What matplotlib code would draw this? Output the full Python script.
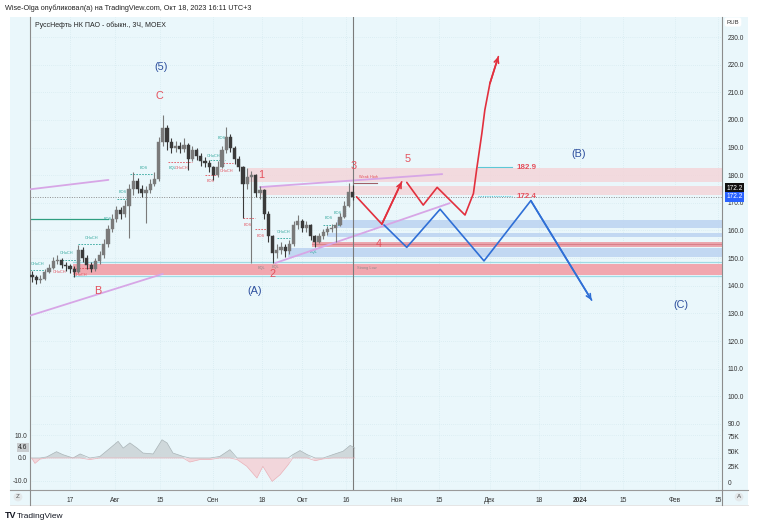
import matplotlib
matplotlib.use('Agg')
import matplotlib.pyplot as plt
from matplotlib.patches import Rectangle
import numpy as np

plt.rcParams['font.family'] = ['Liberation Sans', 'DejaVu Sans']

# ---------------- data ----------------
candle_idx = list(range(-9, 68))
first_open = 144.0
closes = [143, 142, 142.5, 145, 146.5, 149, 149.5, 147.5, 147, 146,
          145, 153, 150, 147.5, 146, 149, 151, 155, 160.5, 164,
          167.5, 166, 169, 175, 178, 175, 173.5, 174.5, 177, 178.5,
          192, 197, 192, 190, 190.5, 189.5, 191, 186, 189, 187,
          185, 184.5, 183, 180, 183, 189, 194, 190, 186, 183,
          177, 179.5, 180, 173.5, 174.5, 166, 158, 152, 153, 154,
          152.5, 155, 162, 163.5, 161, 162, 158, 156, 158, 159.5,
          160.5, 161, 162, 165, 169, 174, 172.2]
highs = [145.5, 144, 144, 146, 148, 150.5, 151, 150, 148.5, 148,
         147, 154.7, 154, 151, 148.5, 150, 152.5, 157, 162, 166,
         169, 168.5, 171, 177, 181, 179, 176.5, 176, 178.5, 181,
         194, 201.8, 198, 193.5, 192.5, 192, 193.5, 191.5, 190.5, 190,
         188, 186.5, 185.5, 183.5, 185, 190.5, 197.4, 195, 190.5, 187,
         183.5, 182.6, 181.5, 180.5, 176, 175, 167, 158.5, 155, 156,
         155, 156.5, 163.5, 165.6, 164, 163.5, 162.5, 158.5, 159, 160.5,
         161.5, 162.5, 163, 166.5, 170.5, 177.2, 176.5]
lows = [141.5, 140.8, 141, 142, 144.5, 146, 148, 146.5, 145.5, 144.5,
        143.2, 144.5, 148.5, 146, 145, 145.5, 148, 150, 154, 159.5,
        163, 164, 165, 157.3, 173, 173.5, 172, 162.7, 173.5, 176,
        178, 190.5, 189, 188, 188.5, 188, 188.5, 182, 185, 185.5,
        183.5, 183, 181, 178.3, 179.5, 182.5, 188, 188.5, 184, 181.5,
        164.5, 175, 148.2, 172, 171.5, 164, 156, 148.2, 150, 151.5,
        150.5, 151.5, 154.5, 160.5, 159.5, 159.5, 156.5, 154, 155.5, 157,
        158.5, 159.5, 155.8, 161.5, 164.5, 168.5, 171]

x_tick_pos = [0, 10.7, 21.3, 33.9, 45.5, 55.0, 65.4, 77.3, 87.4, 99.5,
              111.1, 120.9, 131.0, 143.4, 153.6]
x_tick_labels = ['17', 'Авг', '15', 'Сен', '18', 'Окт', '16', 'Ноя', '15',
                 'Дек', '18', '2024', '15', 'Фев', '15']
price_ticks = [90, 100, 110, 120, 130, 140, 150, 160, 170, 180, 190, 200,
               210, 220, 230]
last_price = 172.2

# oscillator pane
ind_x = [-9.1, -8.3, -7.1, -5.5, -3.2, -1.7, 0.7, 2.4, 4.7, 7.1,
         9.5, 11.4, 12.6, 14.2, 15.9, 17.3, 19.7, 21.8, 23.0, 24.4,
         26.8, 28.4, 30.8, 33.2, 35.5, 37.9, 39.6, 41.9, 44.3, 45.7,
         47.9, 49.8, 51.7, 52.8, 54.5, 56.2, 58.1, 60.0, 62.3, 64.7,
         66.4, 67.5]
ind_v = [0, -2.4, -0.5, 0.5, 2.8, 1.5, 0, 1.8, -0.7, 0.7,
         4.4, 7.4, 4.4, 6.7, 4.4, 2.2, 1.8, 8.1, 6.7, 2.2,
         0.7, -1.8, -0.7, -0.7, 0.7, 3.7, -0.7, -3.7, -8.9, -3.7,
         -10.4, -7.4, -3, 1.5, 3.3, 1.5, -1.2, -0.4, 1.5, 3,
         5.6, 4.4]
ind_last = 4.6
ind_ticks = [10, 0, -10]
vol_ticks = [0, 25000, 50000, 75000]
vol_labels = ['0', '25K', '50K', '75K']

# zones (start index, low, high, kind)
zone_x0 = [42.2, 45.0, 63.3, 60.9, 57.3, 51.7, 0.7]
zone_lo = [177.6, 172.8, 160.8, 157.8, 154.1, 150.5, 143.9]
zone_hi = [182.7, 176.1, 163.8, 159.0, 155.9, 153.5, 147.9]
zone_kind = ['weak', 'weak', 'bull', 'bull', 'bear', 'bull', 'strong']

# trend lines (x0, p0, x1, p1)
tl_x0 = [-9.5, -9.5, 48.6, 45.0]
tl_p0 = [174.9, 129.2, 148.2, 175.7]
tl_x1 = [9.1, 22.0, 90.0, 88.2]
tl_p1 = [178.3, 144.3, 169.9, 180.4]

# scenario paths
red1_x = [67.9, 73.9, 78.6]
red1_p = [172.2, 162.3, 177.6]
red2_x = [79.8, 83.7, 87.0, 93.6, 95.6, 96.4, 97.6, 98.3, 99.5, 101.5]
red2_p = [177.4, 169.2, 175.6, 165.6, 173.4, 182.5, 195.2, 203.6, 213.2, 222.9]
blue_x = [74.4, 79.8, 87.7, 98.1, 109.2, 123.6]
blue_p = [162.0, 153.9, 167.7, 149.0, 170.8, 134.8]

# wave labels
wave_txt = ['(5)', 'C', 'B', '(A)', '1', '2', '3', '4', '5', '(B)', '(C)']
wave_x = [21.6, 21.1, 6.6, 43.8, 45.3, 47.9, 67.1, 73.2, 80.1, 120.6, 144.8]
wave_p = [219.1, 208.7, 138.1, 138.1, 180.1, 144.3, 183.3, 155.1, 185.9, 187.7, 133.0]
wave_col = ['blue', 'red', 'red', 'blue', 'red', 'red', 'red', 'red', 'red', 'blue', 'blue']

# target levels
target_vals = [182.9, 172.4]

# structure labels (text, x, price, colour)
st_txt = ['CHoCH', 'CHoCH', 'CHoCH', 'CHoCH', 'CHoCH', 'BOS', 'BOS', 'BOS', 'EQL',
          'CHoCH', 'BOS', 'CHoCH', 'BOS', 'CHoCH', 'BOS', 'BOS', 'CHoCH', 'EQL',
          'EQL', 'BOS', 'BOS', 'EQL', 'Strong Low', 'Weak High']
st_x = [-7.6, -2.4, -0.7, 2.4, 5.0, 9.0, 12.6, 17.5, 24.2, 26.5, 33.4, 33.9,
        36.0, 37.2, 42.2, 45.3, 50.5, 45.3, 48.6, 61.4, 63.5, 57.6, 70.4, 70.6]
st_p = [147.9, 145.0, 151.9, 143.9, 157.3, 164.2, 173.9, 182.6, 182.6, 182.6,
        177.9, 186.9, 193.4, 181.5, 162.0, 158.0, 159.45, 146.4, 146.8, 164.5,
        166.3, 152.2, 146.4, 179.35]
st_c = ['t', 'r', 't', 'r', 't', 't', 't', 't', 't', 'r', 'r', 't', 't', 'r',
        'r', 'r', 't', 'g', 'g', 't', 't', 't', 'g', 'r']
# dashed structure lines (x0, x1, price, colour)
sl_x0 = [-9.5, -1.9, 0.7, 1.9, 11.1, 14.2, 23.2, 32.0, 33.2, 35.5, 41.0, 43.8, 49.1, 60.0]
sl_x1 = [-5.9, 2.4, 5.2, 7.8, 14.2, 19.7, 28.9, 34.8, 36.7, 38.6, 43.8, 46.9, 52.1, 64.0]
sl_p = [145.7, 149.3, 146.4, 155.1, 171.4, 180.4, 184.8, 180.1, 185.6, 184.4,
        164.5, 160.5, 157.3, 162.0]
sl_c = ['t', 't', 'r', 't', 't', 't', 'r', 'r', 't', 'r', 'r', 'r', 't', 't']

# ---------------- styling ----------------
BG = '#eaf7fb'
RED_T = '#e4505c'
BLUE_T = '#2d4f9e'
TEAL = '#2ea59a'
cmap_c = {'t': TEAL, 'r': RED_T, 'g': '#8a8a8a'}
zone_col = {'weak': ('#f4d5d9', 0.85), 'bull': ('#bcd3f1', 0.85),
            'bear': ('#eca3aa', 0.95), 'strong': ('#f2a3ab', 0.95)}

fig = plt.figure(figsize=(7.58, 5.26), dpi=100)
fig.patch.set_facecolor('white')
W, H = 758.0, 526.0

# background panel (behind everything)
bgax = fig.add_axes([10 / W, 1 - 505 / H, 738 / W, 488 / H], zorder=-10)
bgax.set_facecolor(BG)
bgax.set_xticks([])
bgax.set_yticks([])
for s in bgax.spines.values():
    s.set_visible(False)

ax = fig.add_axes([30 / W, 1 - 430 / H, 692 / W, 413 / H])
ind = fig.add_axes([30 / W, 1 - 490 / H, 692 / W, 60 / H], sharex=ax)
for a in (ax, ind):
    a.set_facecolor(BG)
    for s in ('top', 'bottom'):
        a.spines[s].set_visible(False)
    a.spines['left'].set_color('#8c8c8c')
    a.spines['right'].set_color('#8c8c8c')
    a.spines['left'].set_linewidth(0.8)
    a.spines['right'].set_linewidth(0.8)

XMIN, XMAX = -9.48, 154.5
ax.set_xlim(XMIN, XMAX)
ax.set_ylim(87.82, 237.24)

# grid
ax.set_xticks(x_tick_pos)
ax.set_yticks(price_ticks)
ax.grid(True, color='#cfe6ec', lw=0.5, ls=(0, (1, 2)))
ax.set_axisbelow(True)
ax.yaxis.tick_right()
ax.set_yticklabels([f'{v:.1f}' for v in price_ticks])
ax.tick_params(axis='y', length=0, pad=4, labelsize=4.8, labelcolor='#333333')
ax.tick_params(axis='x', length=0, labelbottom=False)

# zones
for x0, lo, hi, k in zip(zone_x0, zone_lo, zone_hi, zone_kind):
    c, al = zone_col[k]
    ax.add_patch(Rectangle((x0, lo), XMAX - x0, hi - lo, facecolor=c,
                           alpha=al, edgecolor='none', zorder=1))
    if k == 'bear':
        ax.plot([x0, XMAX], [(lo + hi) / 2] * 2, color='#d9808a', lw=0.8, zorder=1)
    if k == 'strong':
        ax.plot([x0, XMAX], [hi + 0.7] * 2, color='#9fdbe4', lw=0.9, zorder=1)
        ax.plot([x0, XMAX], [lo - 0.5] * 2, color='#9fdbe4', lw=0.9, zorder=1)

# green BOS line
ax.plot([XMIN, 9.0], [164.2, 164.2], color='#2e9e80', lw=0.9, zorder=2)

# dashed structure lines
for x0, x1, p, c in zip(sl_x0, sl_x1, sl_p, sl_c):
    ax.plot([x0, x1], [p, p], color=cmap_c[c], lw=0.6, ls=(0, (2, 1.5)), zorder=2)
for t, x, p, c in zip(st_txt, st_x, st_p, st_c):
    ax.text(x, p, t, color=cmap_c[c], fontsize=2.8, ha='center', va='center', zorder=3)

# last price dotted line
ax.axhline(last_price, color='#8c8c8c', lw=0.7, ls=(0, (1, 1.5)), zorder=2)

# trend lines
for x0, p0, x1, p1 in zip(tl_x0, tl_p0, tl_x1, tl_p1):
    ax.plot([x0, x1], [p0, p1], color='#d7a6e6', lw=1.3, zorder=3,
            solid_capstyle='round')

# candles
opens = [first_open] + closes[:-1]
for i, o, h, l, c in zip(candle_idx, opens, highs, lows, closes):
    col = '#7a7a7a' if c >= o else '#3a3a3a'
    ax.vlines(i, l, h, color=col, lw=0.8, zorder=4)
    ax.add_patch(Rectangle((i - 0.38, min(o, c)), 0.76, max(abs(c - o), 0.3),
                           facecolor=col, edgecolor=col, lw=0.3, zorder=4))

# weak-high short line
ax.plot([67.1, 72.7], [177.2, 177.2], color='#a06068', lw=0.8, zorder=3)

# vertical marker line
ax.axvline(67.1, color='#7a7a7a', lw=0.8, zorder=3)
ind.axvline(67.1, color='#7a7a7a', lw=0.8, zorder=3)

# scenario paths
def path_with_arrow(xs, ps, col):
    ax.plot(xs, ps, color=col, lw=1.2, zorder=5, solid_joinstyle='round',
            solid_capstyle='round')
    ax.annotate('', xy=(xs[-1], ps[-1]), xytext=(xs[-2], ps[-2]),
                arrowprops=dict(arrowstyle='->', color=col, lw=1.2,
                                mutation_scale=8, shrinkA=0, shrinkB=0), zorder=5)

path_with_arrow(red1_x, red1_p, '#e2303e')
path_with_arrow(red2_x, red2_p, '#e2303e')
path_with_arrow(blue_x, blue_p, '#2f6fd6')

# target levels
ax.plot([96.7, 104.7], [target_vals[0]] * 2, color='#5cc8d6', lw=0.8, zorder=3)
ax.plot([96.7, 104.7], [target_vals[1]] * 2, color='#5cc8d6', lw=0.8,
        ls=(0, (1, 1)), zorder=3)
for v in target_vals:
    ax.text(105.9, v, f'{v:.1f}', color=RED_T, fontsize=5.8, fontweight='bold',
            ha='left', va='center', zorder=6)

# wave labels
for t, x, p, c in zip(wave_txt, wave_x, wave_p, wave_col):
    ax.text(x, p, t, color=BLUE_T if c == 'blue' else RED_T, fontsize=7.8,
            ha='center', va='center', zorder=6)

# header inside chart
ax.text(0.007, 0.981, 'РуссНефть НК ПАО - обыкн., 3Ч, MOEX', transform=ax.transAxes,
        fontsize=5, color='#222222', ha='left', va='center')

# price labels on right axis
ax.annotate(f'{last_price:.1f}', xy=(1.0, 175.3), xycoords=('axes fraction', 'data'),
            xytext=(3, 0), textcoords='offset points', fontsize=4.8, color='white',
            va='center', ha='left', annotation_clip=False,
            bbox=dict(boxstyle='square,pad=0.25', fc='#111111', ec='none'))
ax.annotate(f'{last_price:.1f}', xy=(1.0, last_price), xycoords=('axes fraction', 'data'),
            xytext=(3, 0), textcoords='offset points', fontsize=4.8, color='white',
            va='center', ha='left', annotation_clip=False,
            bbox=dict(boxstyle='square,pad=0.25', fc='#2962ff', ec='none'))
fig.text(733 / W, 1 - 22 / H, 'RUB', fontsize=4.2, color='#333333', ha='center',
         va='center', bbox=dict(boxstyle='round,pad=0.35', fc='white', ec='none'))

# ---------------- oscillator pane ----------------
ind.set_ylim(-14.22, 12.44)
ix = np.array(ind_x)
iv = np.array(ind_v)
ind.fill_between(ix, 0, iv, where=iv >= 0, interpolate=True, color='#cdd5d8',
                 alpha=0.9, lw=0, zorder=2)
ind.fill_between(ix, 0, iv, where=iv <= 0, interpolate=True, color='#f3d3d8',
                 alpha=0.9, lw=0, zorder=2)
ind.plot(ix, np.where(iv >= 0, iv, 0), color='#a9b4b7', lw=0.5, zorder=3)
ind.plot(ix, np.where(iv <= 0, iv, 0), color='#eab1b8', lw=0.5, zorder=3)
ind.set_yticks(ind_ticks)
ind.set_yticklabels([f'{v:.1f}' for v in ind_ticks])
ind.tick_params(axis='y', length=0, pad=2, labelsize=4.8, labelcolor='#333333')
ind.grid(True, color='#cfe6ec', lw=0.5, ls=(0, (1, 2)))
ind.set_axisbelow(True)
ind.set_xticks(x_tick_pos)
ind.set_xticklabels(x_tick_labels)
ind.tick_params(axis='x', length=0, pad=5, labelsize=4.8, labelcolor='#333333')
for lab in ind.get_xticklabels():
    if lab.get_text() == '2024':
        lab.set_fontweight('bold')
ind.annotate(f'{ind_last:.1f}', xy=(0.0, ind_last), xycoords=('axes fraction', 'data'),
             xytext=(-2, 0), textcoords='offset points', fontsize=4.8, color='#222222',
             va='center', ha='right', annotation_clip=False,
             bbox=dict(boxstyle='square,pad=0.2', fc='#c9cdd0', ec='none'))

vol = ind.twinx()
vol.set_ylim(-13043, 84783)
vol.set_yticks(vol_ticks)
vol.set_yticklabels(vol_labels)
vol.tick_params(axis='y', length=0, pad=4, labelsize=4.8, labelcolor='#333333')
for s in vol.spines.values():
    s.set_visible(False)

# time-axis strip borders
fig.add_artist(plt.Line2D([10 / W, 748 / W], [1 - 490 / H] * 2, color='#9a9a9a', lw=0.8))
fig.add_artist(plt.Line2D([10 / W, 748 / W], [1 - 505 / H] * 2, color='#e0e0e0', lw=0.6))
fig.add_artist(plt.Line2D([722 / W] * 2, [1 - 505 / H, 1 - 490 / H], color='#8c8c8c', lw=0.8))
fig.add_artist(plt.Line2D([30 / W] * 2, [1 - 505 / H, 1 - 490 / H], color='#8c8c8c', lw=0.8))
fig.text(18 / W, 1 - 497 / H, 'Z', fontsize=4.5, color='#555555', ha='center', va='center',
         bbox=dict(boxstyle='circle,pad=0.3', fc='#e3e8ea', ec='none'))
fig.text(739 / W, 1 - 497 / H, 'A', fontsize=4.5, color='#555555', ha='center', va='center',
         bbox=dict(boxstyle='circle,pad=0.3', fc='#e3e8ea', ec='none'))

# top and bottom captions
fig.text(5 / W, 1 - 8 / H,
         'Wise-Olga опубликовал(а) на TradingView.com, Окт 18, 2023 16:11 UTC+3',
         fontsize=5.2, color='#222222', ha='left', va='center')
fig.text(5 / W, 1 - 516 / H, 'TV', fontsize=6.5, fontweight='heavy', color='#131722',
         ha='left', va='center')
fig.text(17 / W, 1 - 516 / H, 'TradingView', fontsize=6, color='#131722',
         ha='left', va='center')

fig.savefig('out.png', dpi=100, facecolor='white')
